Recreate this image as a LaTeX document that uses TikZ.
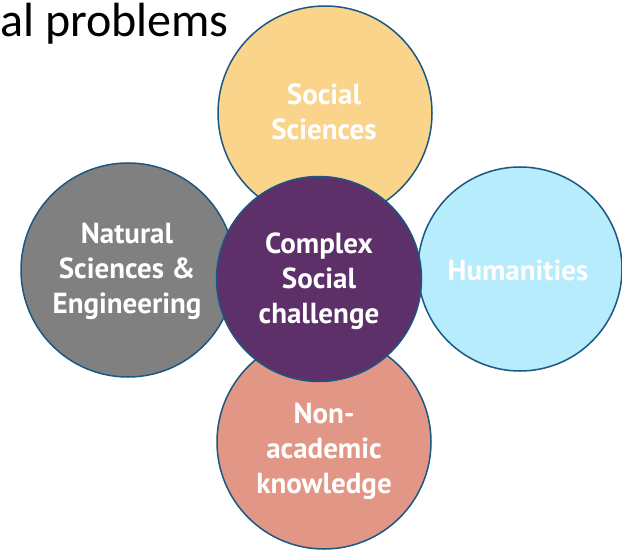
\documentclass[tikz,border=0pt]{standalone}
\usepackage{fontspec}
\setmainfont{PT Sans}
\newfontfamily\titlefont{Carlito}
\definecolor{ssfill}{HTML}{F9D48A}
\definecolor{nsfill}{HTML}{808080}
\definecolor{cfill}{HTML}{5E3069}
\definecolor{hfill}{HTML}{B7ECFD}
\definecolor{nafill}{HTML}{E29686}
\definecolor{edge}{HTML}{1A5883}
\begin{document}
\begin{tikzpicture}[x=1bp,y=-1bp,
  disc/.style={circle, draw=edge, line width=1.5bp, inner sep=0pt},
  lbl/.style={text=white, font=\fontsize{29bp}{35bp}\selectfont\bfseries, align=center}]
\useasboundingbox (0,0) rectangle (622,550);
\node[font=\titlefont\fontsize{48bp}{52bp}\selectfont, anchor=base west, inner sep=0pt] (title) at (0,37) {al problems};
\node[disc, fill=ssfill, minimum size=214bp] (ss) at (325,113) {};
\node[disc, fill=nsfill, minimum size=214bp] (ns) at (128,270) {};
\node[disc, fill=hfill, minimum size=204bp] (hu) at (520,269) {};
\node[disc, fill=nafill, minimum size=214bp] (na) at (324,442) {};
\node[disc, fill=cfill, minimum size=205bp] (cc) at (319,279) {};
\node[lbl] (sst) at (324,112) {Social\\Sciences};
\node[lbl] (nst) at (127,271) {Natural\\Sciences \&\\Engineering};
\node[lbl] (hut) at (518,270) {Humanities};
\node[lbl] (nat) at (324,451) {Non-\\academic\\knowledge};
\node[lbl] (cct) at (319,281) {Complex\\Social\\challenge};
\end{tikzpicture}
\end{document}
